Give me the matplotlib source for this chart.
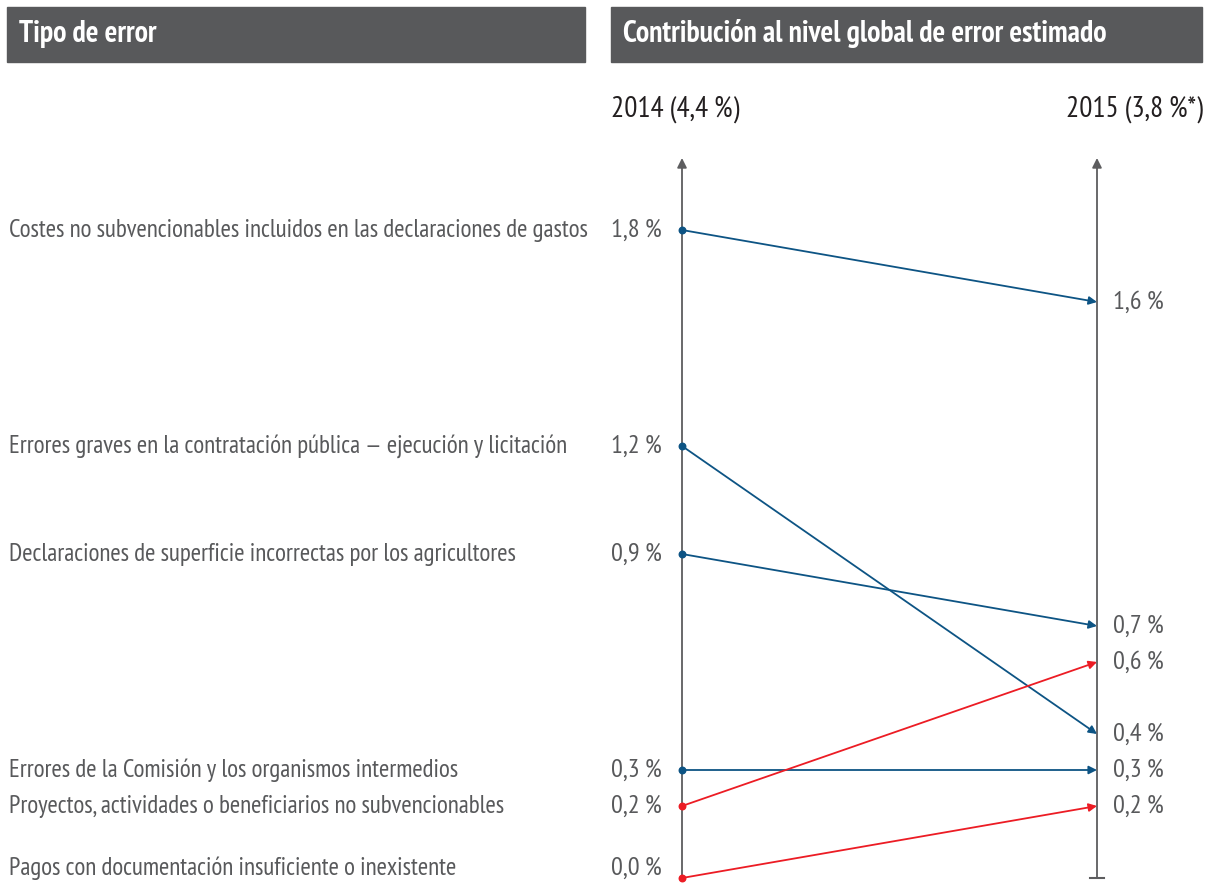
import matplotlib.pyplot as plt
from matplotlib.patches import Rectangle
from matplotlib.transforms import blended_transform_factory

plt.rcParams['font.family'] = ['PT Sans Narrow', 'DejaVu Sans']

# error types and their contribution (% points) in 2014 and 2015
categories = [
    'Costes no subvencionables incluidos en las declaraciones de gastos',
    'Errores graves en la contratación pública — ejecución y licitación',
    'Declaraciones de superficie incorrectas por los agricultores',
    'Errores de la Comisión y los organismos intermedios',
    'Proyectos, actividades o beneficiarios no subvencionables',
    'Pagos con documentación insuficiente o inexistente',
]
values_2014 = [1.8, 1.2, 0.9, 0.3, 0.2, 0.0]
values_2015 = [1.6, 0.4, 0.7, 0.3, 0.6, 0.2]
year_labels = ['2014 (4,4\u2009%)', '2015 (3,8\u2009%*)']
header_left = 'Tipo de error'
header_right = 'Contribución al nivel global de error estimado'

BLUE = '#0d5484'
RED = '#ec1c24'
GREY = '#5d5d5f'
TEXT = '#58595b'
HEADER = '#58595b'


def pct(v):
    return f'{v:.1f}\u2009%'.replace('.', ',')


W, H = 1210, 884
fig = plt.figure(figsize=(W / 100, H / 100), dpi=100)

# slope area: x=0 is 2014, x=1 is 2015
ax = fig.add_axes([682 / W, 6 / H, 415 / W, 720 / H])
ax.set_xlim(0, 1)
ax.set_ylim(0, 2.0)
ax.axis('off')

# header bars
for x0, x1, txt in [(7, 585, header_left), (611, 1202, header_right)]:
    fig.patches.append(Rectangle((x0 / W, 1 - 62 / H), (x1 - x0) / W, 55 / H,
                                 transform=fig.transFigure, color=HEADER, zorder=0))
    fig.text((x0 + 12) / W, 1 - 34 / H, txt, color='white', fontsize=21.5,
             fontweight='bold', va='center', ha='left')

fig.text(611 / W, 1 - 109 / H, year_labels[0], fontsize=21, color='#231f20',
         va='center', ha='left')
fig.text(1203 / W, 1 - 109 / H, year_labels[1], fontsize=21, color='#231f20',
         va='center', ha='right')

# vertical axes with arrow tips
for x in (0, 1):
    ax.annotate('', xy=(x, 2.0), xytext=(x, 0), xycoords='data',
                arrowprops=dict(arrowstyle='-|>', color=GREY, lw=1.3,
                                mutation_scale=14, shrinkA=0, shrinkB=0),
                zorder=1)
ax.plot([0.982, 1.018], [0, 0], color=GREY, lw=1.5, clip_on=False)

lab_tr = blended_transform_factory(fig.transFigure, ax.transData)
for cat, a, b in zip(categories, values_2014, values_2015):
    col = BLUE if b <= a else RED
    ax.annotate('', xy=(1, b), xytext=(0, a),
                arrowprops=dict(arrowstyle='-|>', color=col, lw=1.3,
                                mutation_scale=12, shrinkA=0, shrinkB=0),
                zorder=3, annotation_clip=False)
    ax.scatter([0], [a], s=22, color=col, zorder=4, clip_on=False)
    dy = 0.028 if a == 0 else 0.0
    ax.text(9 / W, a + dy, cat, transform=lab_tr, fontsize=18, color=TEXT,
            va='center', ha='left')
    ax.text(611 / W, a + dy, pct(a), transform=lab_tr,
            fontsize=19, color=TEXT, va='center', ha='left')
    ax.text(1113 / W, b, pct(b), transform=lab_tr,
            fontsize=19, color=TEXT, va='center', ha='left')

fig.savefig('out.png', dpi=100)
